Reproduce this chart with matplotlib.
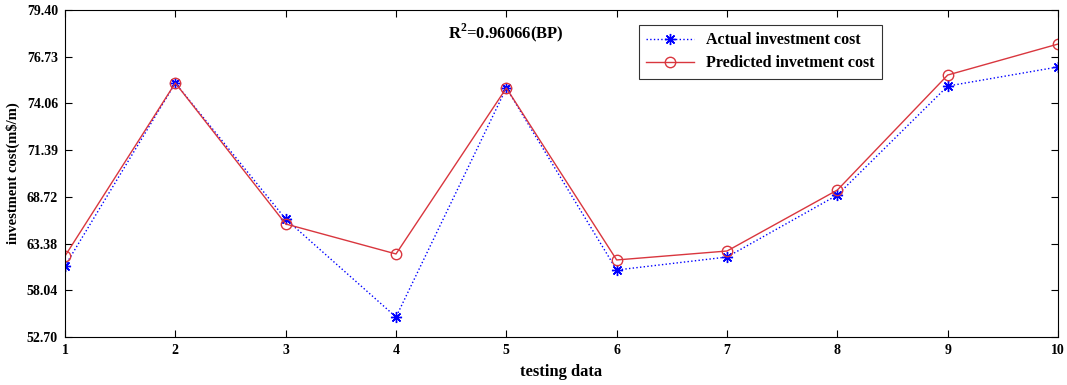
import numpy as np
import matplotlib.pyplot as plt

plt.rcParams['font.family'] = ['Liberation Serif', 'DejaVu Serif']
plt.rcParams['font.weight'] = 'bold'
plt.rcParams['mathtext.fontset'] = 'custom'
plt.rcParams['mathtext.rm'] = 'Liberation Serif:bold'
plt.rcParams['mathtext.bf'] = 'Liberation Serif:bold'

# data
samples = np.arange(1, 11)
actual = [58.50, 73.44, 62.33, 54.33, 73.03, 58.17, 59.23, 64.29, 73.19, 74.75]
predicted = [59.31, 73.44, 61.93, 59.48, 73.03, 58.99, 59.72, 64.70, 74.09, 76.62]
ytick_labels = ['52.70', '58.04', '63.38', '68.72', '71.39', '74.06', '76.73', '79.40']

fig = plt.figure(figsize=(10.67, 3.85), dpi=100)
ax = fig.add_axes([0.0609, 0.1247, 0.9307, 0.8493])

ax.plot(samples, actual, color='#0000ff', linestyle=':', linewidth=1,
        marker=(8, 2, 0), markersize=8, markeredgewidth=1, label='Actual investment cost')
ax.plot(samples, predicted, color='#d9363e', linestyle='-', linewidth=1,
        marker='o', markersize=7.5, markerfacecolor='none', label='Predicted invetment cost')

ax.set_xlim(1, 10)
ax.set_ylim(52.70, 79.40)
ax.set_xticks(samples)
ax.set_yticks(np.linspace(52.70, 79.40, 8))
ax.set_yticklabels(ytick_labels)
ax.tick_params(direction='in', length=5, labelsize=10, top=True, right=True, width=0.8, pad=5)
for lbl in ax.get_xticklabels() + ax.get_yticklabels():
    lbl.set_fontweight('bold')
for s in ax.spines.values():
    s.set_linewidth(0.8)

ax.set_xlabel('testing data', fontsize=12, fontweight='bold', labelpad=5)
ax.set_ylabel('investment cost(m$/m)', fontsize=10.5, fontweight='bold', labelpad=5)

fig.text(0.42, 0.9, r'R$^{\mathbf{2}}$=0.96066(BP)', fontsize=12, fontweight='bold')

leg = ax.legend(loc='upper left', bbox_to_anchor=(0.5985, 0.935), bbox_transform=fig.transFigure,
                fontsize=11.5, frameon=True, fancybox=False, edgecolor='black',
                borderpad=0.45, handlelength=3.0, labelspacing=0.45, borderaxespad=0)
leg.get_frame().set_linewidth(0.8)
for t in leg.get_texts():
    t.set_fontweight('bold')

fig.savefig('out.png', dpi=100)
